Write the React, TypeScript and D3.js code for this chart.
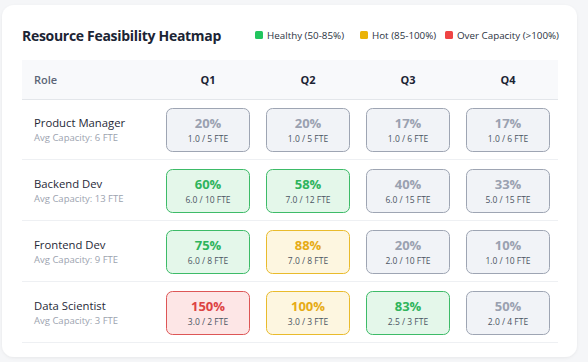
import React, { useEffect } from "react";
import * as d3 from "d3";

const roles = ["Product Manager", "Backend Dev", "Frontend Dev", "Data Scientist"];
const avgCapacity = [6, 13, 9, 3];
const quarters = ["Q1", "Q2", "Q3", "Q4"];
const allocated = [
  [1.0, 1.0, 1.0, 1.0],
  [6.0, 7.0, 6.0, 5.0],
  [6.0, 7.0, 2.0, 1.0],
  [3.0, 3.0, 2.5, 2.0],
];
const capacity = [
  [5, 5, 6, 6],
  [10, 12, 15, 15],
  [8, 8, 10, 10],
  [2, 3, 3, 4],
];
const legendItems = [
  { label: "Healthy (50-85%)", key: "green" },
  { label: "Hot (85-100%)", key: "yellow" },
  { label: "Over Capacity (>100%)", key: "red" },
];

const styles: Record<string, { fill: string; stroke: string; text: string }> = {
  gray: { fill: "#f1f3f7", stroke: "#9ea5b3", text: "#9aa1b0" },
  green: { fill: "#e4f7ea", stroke: "#3dbb68", text: "#2fb45c" },
  yellow: { fill: "#fdf6e0", stroke: "#e9bb2c", text: "#e6ab15" },
  red: { fill: "#fde6e6", stroke: "#dd5656", text: "#dc4343" },
};
const legendColors: Record<string, string> = {
  green: "#22c55e",
  yellow: "#eab308",
  red: "#ef4444",
};

function status(p: number) {
  if (p > 100) return "red";
  if (p > 85) return "yellow";
  if (p > 50) return "green";
  return "gray";
}

const FONT = "'Open Sans', 'Noto Sans', sans-serif";

export default function App() {
  useEffect(() => {
    document.body.style.margin = "0";
  }, []);

  const W = 588, H = 362;
  const x = d3.scaleBand<string>().domain(quarters).range([158, 558]);
  const y = d3.scaleBand<string>().domain(roles).range([99, 343]);
  const cellW = 84, cellH = 44;

  const legendX = [255, 360, 445];

  return (
    <svg width={W} height={H} style={{ display: "block", fontFamily: FONT }}>
      <defs>
        <filter id="sh" x="-5%" y="-5%" width="110%" height="110%">
          <feDropShadow dx="0" dy="1" stdDeviation="1.5" floodColor="#000" floodOpacity="0.06" />
        </filter>
      </defs>
      <rect width={W} height={H} fill="#f5f6f8" />
      <rect x={2} y={5} width={575} height={352} rx={12} fill="#ffffff" filter="url(#sh)" />
      <text x={22} y={41} fontSize={14} fontWeight={700} letterSpacing={-0.3} fill="#1b2434">
        Resource Feasibility Heatmap
      </text>
      {legendItems.map((d, i) => (
        <g key={d.key}>
          <rect x={legendX[i]} y={31} width={8} height={8} rx={1.5} fill={legendColors[d.key]} />
          <text x={legendX[i] + 12} y={39} fontSize={9.8} fill="#2b3342">
            {d.label}
          </text>
        </g>
      ))}
      <rect x={22} y={60} width={536} height={39} fill="#f8f9fb" />
      <line x1={22} x2={558} y1={99.5} y2={99.5} stroke="#e3e6ea" />
      <text x={34} y={84} fontSize={11} fontWeight={600} fill="#5b6577">
        Role
      </text>
      {quarters.map((q) => (
        <text key={q} x={(x(q) as number) + x.bandwidth() / 2} y={84} fontSize={11} fontWeight={700} fill="#1b2434" textAnchor="middle">
          {q}
        </text>
      ))}
      {roles.map((r, ri) => {
        const y0 = y(r) as number;
        return (
          <g key={r}>
            <line x1={22} x2={558} y1={y0 + y.bandwidth() - 0.5} y2={y0 + y.bandwidth() - 0.5} stroke="#eef0f3" />
            <text x={34} y={y0 + 28} fontSize={11.3} fill="#1f2937">
              {r}
            </text>
            <text x={34} y={y0 + 42} fontSize={9.5} fill="#9ca3af">
              {`Avg Capacity: ${avgCapacity[ri]} FTE`}
            </text>
            {quarters.map((q, qi) => {
              const a = allocated[ri][qi];
              const c = capacity[ri][qi];
              const p = Math.round((a / c) * 100);
              const s = styles[status(p)];
              const cx = (x(q) as number) + x.bandwidth() / 2;
              return (
                <g key={q}>
                  <rect
                    x={cx - cellW / 2 + 0.5}
                    y={y0 + 9.5}
                    width={cellW - 1}
                    height={cellH - 1}
                    rx={6}
                    fill={s.fill}
                    stroke={s.stroke}
                    strokeWidth={1}
                  />
                  <text x={cx} y={y0 + 29} fontSize={13} fontWeight={700} fill={s.text} textAnchor="middle">
                    {`${p}%`}
                  </text>
                  <text x={cx} y={y0 + 43} fontSize={8.5} fill="#4b5563" textAnchor="middle">
                    {`${a.toFixed(1)} / ${c} FTE`}
                  </text>
                </g>
              );
            })}
          </g>
        );
      })}
    </svg>
  );
}
